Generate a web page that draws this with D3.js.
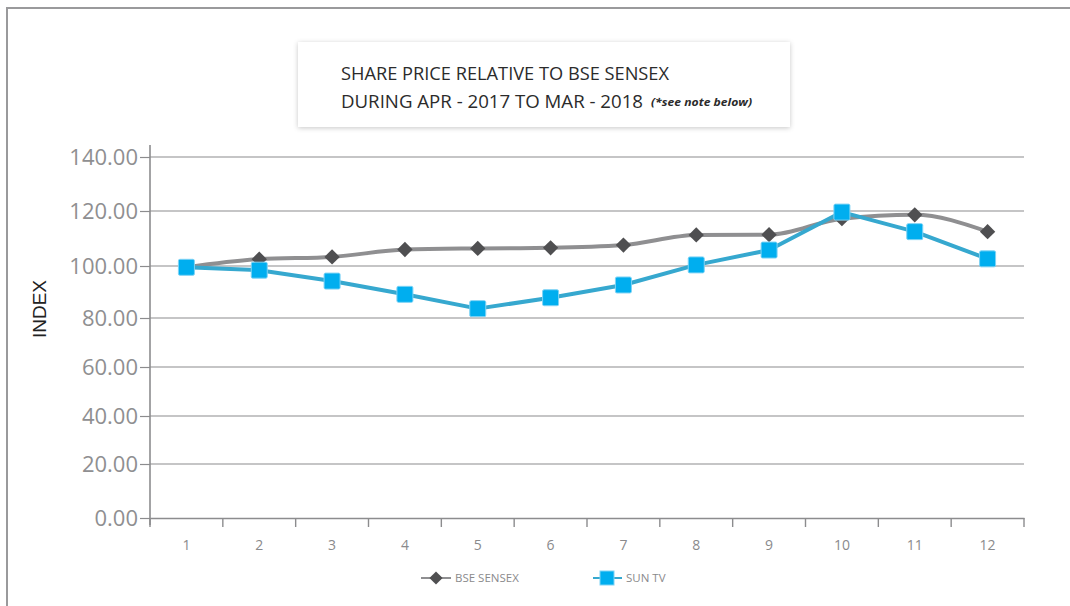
<!DOCTYPE html>
<html>
<head>
<meta charset="utf-8">
<script src="https://cdn.jsdelivr.net/npm/d3@7"></script>
<style>
  body { margin: 0; background: #fff; }
  svg { display: block; font-family: "Open Sans", "Liberation Sans", sans-serif; }
</style>
</head>
<body>
<div id="chart"></div>
<script>
// months of the year, Apr 2017 .. Mar 2018
var months = [1, 2, 3, 4, 5, 6, 7, 8, 9, 10, 11, 12];
var bseSensex = [99.5, 102.5, 103.3, 106.0, 106.4, 106.6, 107.6, 111.3, 111.4, 117.2, 118.6, 112.5];
var sunTv = [99.5, 98.4, 94.2, 89.1, 83.6, 87.8, 92.7, 100.4, 105.8, 119.6, 112.5, 102.6];
var yTicks = [0, 20, 40, 60, 80, 100, 120, 140];

var w = 1070, h = 606;
var plotLeft = 150, plotRight = 1024, plotBottom = 518;
// the scanned chart's gridlines are not evenly spaced, so the scale follows them
var gridY = [518, 464, 416, 367, 318, 266, 211, 157];

var svg = d3.select("#chart").append("svg")
    .attr("width", w)
    .attr("height", h);

var defs = svg.append("defs");
var f = defs.append("filter").attr("id", "shadow")
    .attr("x", "-5%").attr("y", "-20%").attr("width", "110%").attr("height", "140%");
f.append("feDropShadow").attr("dx", 0).attr("dy", 1).attr("stdDeviation", 2.5)
    .attr("flood-color", "#000").attr("flood-opacity", 0.22);

// outer frame
svg.append("path")
    .attr("d", "M7," + h + "V8H" + w)
    .attr("fill", "none")
    .attr("stroke", "#9a9a9c")
    .attr("stroke-width", 2);

var x = d3.scaleBand()
    .domain(months)
    .range([plotLeft, plotRight]);

var y = d3.scaleLinear()
    .domain(yTicks)
    .range(gridY);

// grid lines
svg.append("g")
  .selectAll("line")
  .data(yTicks.slice(1))
  .join("line")
    .attr("x1", plotLeft)
    .attr("x2", plotRight)
    .attr("y1", function(d) { return y(d); })
    .attr("y2", function(d) { return y(d); })
    .attr("stroke", "#8c8c8e")
    .attr("stroke-width", 1.2);

// y axis
var yAxis = svg.append("g")
    .attr("transform", "translate(" + plotLeft + ",0)")
    .call(d3.axisLeft(y).tickValues(yTicks).tickSize(10).tickFormat(d3.format(".2f")));
yAxis.select(".domain").remove();
yAxis.selectAll(".tick line").attr("stroke", "#8c8c8e").attr("stroke-width", 1.2);
yAxis.selectAll(".tick text")
    .attr("x", -12)
    .attr("fill", "#8f8f91")
    .style("font-size", "22px")
    .style("font-family", "'Open Sans', sans-serif");

svg.append("line")
    .attr("x1", plotLeft).attr("x2", plotLeft)
    .attr("y1", 145).attr("y2", 525)
    .attr("stroke", "#8c8c8e").attr("stroke-width", 1.6);

// x axis
var xAxis = svg.append("g")
    .attr("transform", "translate(0," + plotBottom + ")")
    .call(d3.axisBottom(x).tickSize(0).tickPadding(22));
xAxis.select(".domain").attr("stroke", "#8c8c8e").attr("stroke-width", 1.6);
xAxis.selectAll(".tick text")
    .attr("fill", "#8a8a8c")
    .style("font-size", "14px")
    .style("font-family", "'Liberation Sans Narrow', 'Open Sans', sans-serif");

var edges = months.map(function(m) { return x(m); }).concat([plotRight]);
svg.append("g")
  .selectAll("line")
  .data(edges)
  .join("line")
    .attr("x1", function(d) { return d; })
    .attr("x2", function(d) { return d; })
    .attr("y1", plotBottom)
    .attr("y2", plotBottom + 9)
    .attr("stroke", "#8c8c8e")
    .attr("stroke-width", 1.4);

// axis title
svg.append("text")
    .attr("transform", "translate(46,309) rotate(-90)")
    .attr("text-anchor", "middle")
    .attr("fill", "#222")
    .style("font-size", "19px")
    .style("font-family", "'Liberation Sans', Arial, sans-serif")
    .text("INDEX");

var cx = function(d, i) { return x(months[i]) + x.bandwidth() / 2; };

// BSE SENSEX line
svg.append("path")
    .datum(bseSensex)
    .attr("fill", "none")
    .attr("stroke", "#8f8f91")
    .attr("stroke-width", 4)
    .attr("stroke-linejoin", "round")
    .attr("d", d3.line().x(cx).y(function(d) { return y(d); }).curve(d3.curveMonotoneX));

// SUN TV line
svg.append("path")
    .datum(sunTv)
    .attr("fill", "none")
    .attr("stroke", "#36a8cf")
    .attr("stroke-width", 4)
    .attr("stroke-linejoin", "round")
    .attr("d", d3.line().x(cx).y(function(d) { return y(d); }));

var diamond = d3.symbol().type(d3.symbolDiamond2).size(150);

svg.append("g")
  .selectAll("path")
  .data(bseSensex)
  .join("path")
    .attr("transform", function(d, i) { return "translate(" + cx(d, i) + "," + y(d) + ")"; })
    .attr("d", diamond)
    .attr("fill", "#4f4f51");

svg.append("g")
  .selectAll("rect")
  .data(sunTv)
  .join("rect")
    .attr("x", function(d, i) { return cx(d, i) - 8; })
    .attr("y", function(d) { return y(d) - 8; })
    .attr("width", 16)
    .attr("height", 16)
    .attr("rx", 1.5)
    .attr("fill", "#00aeef")
    .attr("stroke", "#7fd3f5")
    .attr("stroke-width", 1);

// title box
svg.append("rect")
    .attr("x", 298).attr("y", 42)
    .attr("width", 492).attr("height", 85)
    .attr("fill", "#fff")
    .attr("filter", "url(#shadow)");

svg.append("text")
    .attr("x", 341).attr("y", 80)
    .attr("fill", "#2b2b2b")
    .attr("textLength", 328).attr("lengthAdjust", "spacingAndGlyphs")
    .style("font-size", "18px")
    .text("SHARE PRICE RELATIVE TO BSE SENSEX");

svg.append("text")
    .attr("x", 341).attr("y", 108)
    .attr("fill", "#2b2b2b")
    .attr("textLength", 302).attr("lengthAdjust", "spacingAndGlyphs")
    .style("font-size", "18px")
    .text("DURING APR - 2017 TO MAR - 2018");

svg.append("text")
    .attr("x", 651).attr("y", 106)
    .attr("fill", "#2b2b2b")
    .attr("textLength", 101).attr("lengthAdjust", "spacingAndGlyphs")
    .style("font-size", "11px")
    .style("font-weight", "bold")
    .style("font-style", "italic")
    .text("(*see note below)");

// legend
var legend = svg.append("g").attr("transform", "translate(0,578)");
var l1 = legend.append("g").attr("transform", "translate(421,0)");
l1.append("line").attr("x1", 0).attr("x2", 30).attr("stroke", "#8f8f91").attr("stroke-width", 2);
l1.append("path").attr("transform", "translate(15,0)").attr("d", d3.symbol().type(d3.symbolDiamond2).size(110)).attr("fill", "#4f4f51");
l1.append("text").attr("x", 34).attr("y", 4).attr("fill", "#8a8a8c")
    .style("font-size", "11.5px").style("font-family", "'Liberation Sans Narrow', 'Open Sans', sans-serif")
    .text("BSE SENSEX");

var l2 = legend.append("g").attr("transform", "translate(593,0)");
l2.append("line").attr("x1", 0).attr("x2", 29).attr("stroke", "#36a8cf").attr("stroke-width", 2);
l2.append("rect").attr("x", 7).attr("y", -7).attr("width", 14).attr("height", 14)
    .attr("fill", "#00aeef").attr("stroke", "#7fd3f5");
l2.append("text").attr("x", 33).attr("y", 4).attr("fill", "#8a8a8c")
    .style("font-size", "11.5px").style("font-family", "'Liberation Sans Narrow', 'Open Sans', sans-serif")
    .text("SUN TV");
</script>
</body>
</html>
